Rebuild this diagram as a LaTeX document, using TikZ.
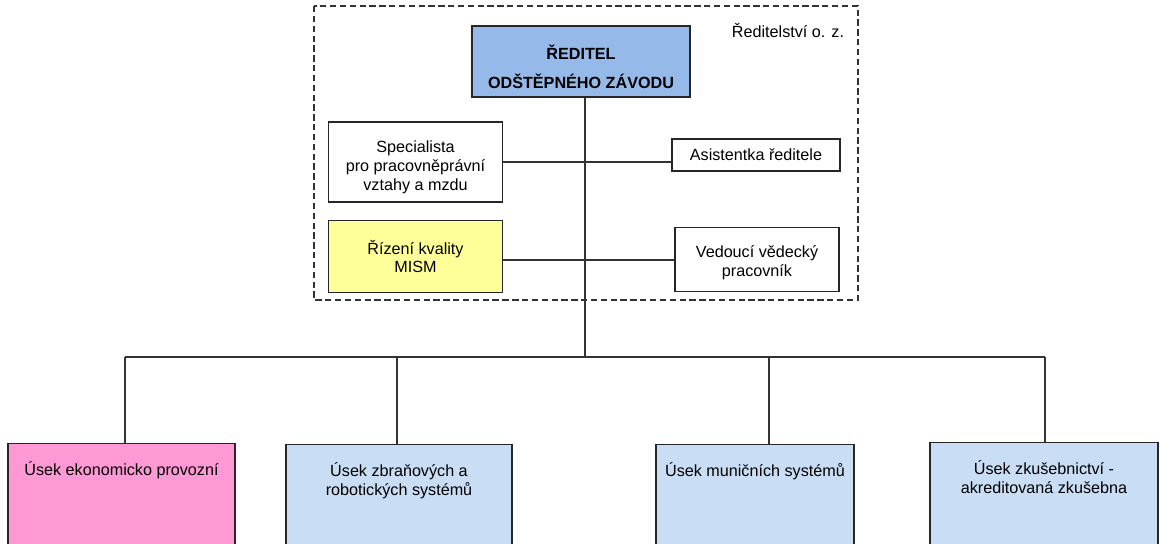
\documentclass[tikz,border=0pt]{standalone}
\usepackage{fontspec}
\setmainfont{Liberation Sans}
\usetikzlibrary{positioning}

\definecolor{headblue}{HTML}{95B9E8}
\definecolor{unitblue}{HTML}{C9DDF5}
\definecolor{unitpink}{HTML}{FF99D6}
\definecolor{qualyellow}{HTML}{FFFF99}

% strut that pushes the text of a box a bit lower
\newcommand{\padtop}[1]{\rule{0pt}{#1}}

\tikzset{
  orgtext/.style={font=\fontsize{11.5}{13.4}\selectfont},
  orgbox/.style={draw=black!85, line width=0.8pt, align=center, orgtext},
  unitbox/.style={orgbox, anchor=north, minimum height=3cm, fill=unitblue},
  orgline/.style={draw=black!80, line width=0.8pt}
}

\begin{document}
\begin{tikzpicture}[x=0.025cm, y=-0.025cm]
  \useasboundingbox (0,0) rectangle (1160,544);

  % directorate frame
  \draw[dash pattern=on 4.5pt off 2.5pt, line width=0.8pt, black!80] (314,6) rectangle (858,300);
  \node[orgtext, anchor=east] (framelabel) at (849,31) {Ředitelství o. z.};

  \begin{scope}[every node/.style={orgbox}]
    \node[fill=headblue, minimum width=5.45cm, minimum height=1.775cm,
          font=\fontsize{11.5}{13.4}\selectfont\bfseries] (reditel) at (581,61.5)
          {\padtop{17.5pt}ŘEDITEL\\[7pt]ODŠTĚPNÉHO ZÁVODU};
    \node[minimum width=4.35cm, minimum height=2cm] (spec) at (415.5,162)
          {\padtop{15.5pt}Specialista\\pro pracovněprávní\\vztahy a mzdu};
    \node[minimum width=4.2cm, minimum height=0.8cm] (asist) at (756,155)
          {Asistentka ředitele};
    \node[fill=qualyellow, minimum width=4.35cm, minimum height=1.8cm] (rizeni) at (415.5,256.5)
          {Řízení kvality\\MISM};
    \node[minimum width=4.1cm, minimum height=1.6cm] (vedouci) at (757,259.5)
          {\padtop{13.5pt}Vedoucí vědecký\\pracovník};
  \end{scope}

  % divisions
  \node[unitbox, fill=unitpink, minimum width=5.675cm] (ekon) at (121.5,443) {};
  \node[unitbox, minimum width=5.65cm] (zbran) at (399,444) {};
  \node[unitbox, minimum width=4.95cm] (munic) at (755,444) {};
  \node[unitbox, minimum width=5.7cm] (zkus) at (1044,442) {};

  \begin{scope}[every node/.style={orgtext, align=center}]
    \node[below=0.35cm of ekon.north] (ekontext) {Úsek ekonomicko provozní};
    \node[below=0.35cm of zbran.north] (zbrantext) {Úsek zbraňových a\\robotických systémů};
    \node[below=0.35cm of munic.north] (munictext) {Úsek muničních systémů};
    \node[below=0.35cm of zkus.north] (zkustext) {Úsek zkušebnictví -\\akreditovaná zkušebna};
  \end{scope}

  % connectors
  \coordinate (trunk) at (585,357);
  \coordinate (drop1) at (125,357);
  \coordinate (drop2) at (397,357);
  \coordinate (drop3) at (769,357);
  \coordinate (drop4) at (1045,357);
  \coordinate (qualrow) at ([yshift=-2.5pt]rizeni.east);

  \begin{scope}[every path/.style={orgline}]
    \path (reditel.south -| trunk) edge (trunk);
    \path (spec.east) edge (spec.east -| asist.west);
    \path (qualrow) edge (qualrow -| vedouci.west);
    \path (drop1) edge (drop4);
    \path (drop1) edge (drop1 |- ekon.north);
    \path (drop2) edge (drop2 |- zbran.north);
    \path (drop3) edge (drop3 |- munic.north);
    \path (drop4) edge (drop4 |- zkus.north);
  \end{scope}
\end{tikzpicture}
\end{document}
